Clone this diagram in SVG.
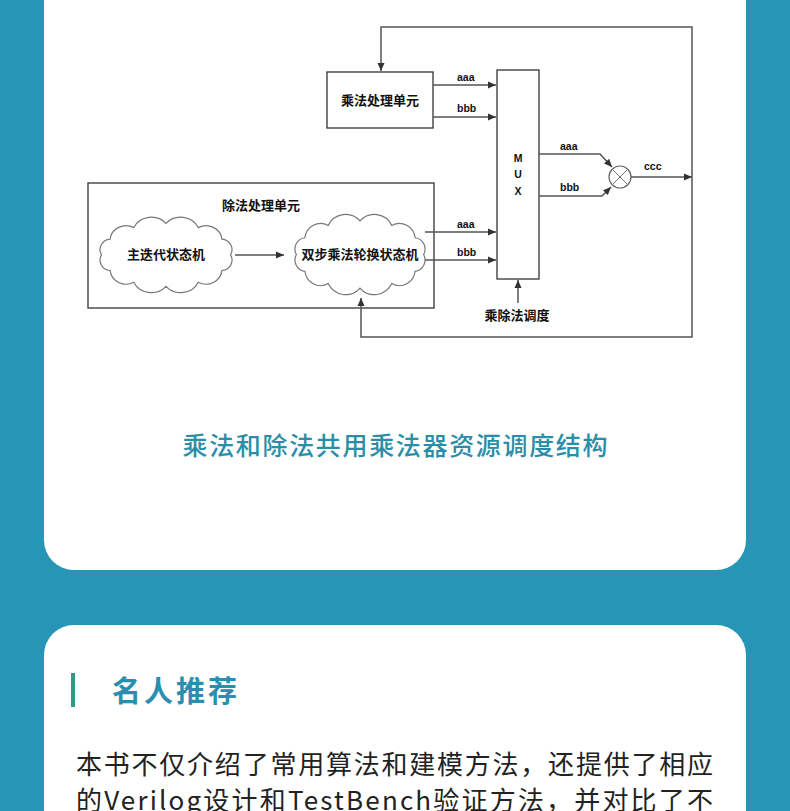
<svg xmlns="http://www.w3.org/2000/svg" width="790" height="811" viewBox="0 0 790 811">
  <style>
    .box { fill: #ffffff; stroke: #333333; stroke-width: 1.3; }
    .cloud { fill: #ffffff; stroke: #777777; stroke-width: 1.2; }
    .ln { fill: none; stroke: #555555; stroke-width: 1.5; }
    .cn { font-family: "Noto Sans CJK SC", "Noto Sans", sans-serif; font-weight: 700; font-size: 13px; fill: #111111; }
    .lb { font-family: "Liberation Sans", Arial, sans-serif; font-weight: 700; font-size: 10.5px; fill: #111111; }
    .cap { font-family: "Noto Sans CJK SC", "Noto Sans", sans-serif; font-weight: 500; font-size: 25px; fill: #2a8ea8; }
    .head { font-family: "Noto Sans CJK SC", "Noto Sans", sans-serif; font-weight: 700; font-size: 29px; fill: #2a8eb0; }
    .body { font-family: "Noto Sans CJK SC", "Noto Sans", sans-serif; font-size: 26px; fill: #222222; }
  </style>
  <defs>
    <marker id="arr" markerWidth="9" markerHeight="8" refX="8" refY="4" orient="auto" markerUnits="userSpaceOnUse">
      <path d="M0,0.5 L8,4 L0,7.5 Z" fill="#333333"/>
    </marker>
    <path id="cloudShape" vector-effect="non-scaling-stroke" d="M12,40 A10.1,10.1 0 0 1 19.8,25 A14.3,14.3 0 0 1 41,14 A17.6,17.6 0 0 1 70,10 A17.6,17.6 0 0 1 99,14 A14.3,14.3 0 0 1 120.2,25 A10.1,10.1 0 0 1 128,40 A10.1,10.1 0 0 1 120.2,55 A14.3,14.3 0 0 1 99,66 A17.6,17.6 0 0 1 70,70 A17.6,17.6 0 0 1 41,66 A14.3,14.3 0 0 1 19.8,55 A10.1,10.1 0 0 1 12,40 Z"/>
  </defs>

  <rect x="0" y="0" width="790" height="811" fill="#2795b5"/>
  <rect x="44" y="-40" width="702" height="610" rx="30" ry="30" fill="#ffffff"/>
  <rect x="44" y="625" width="702" height="250" rx="30" ry="30" fill="#ffffff"/>

  <g id="div-unit">
    <rect class="box" x="88" y="183" width="346" height="125"/>
    <text class="cn" x="261" y="210" text-anchor="middle">除法处理单元</text>
  </g>

  <g id="mul-unit">
    <rect class="box" x="327" y="72" width="106" height="56"/>
    <text class="cn" x="380" y="105" text-anchor="middle">乘法处理单元</text>
  </g>

  <g id="mux">
    <rect class="box" x="497" y="70" width="42" height="209"/>
    <text class="lb" x="518" y="162" text-anchor="middle">M</text>
    <text class="lb" x="518" y="178" text-anchor="middle">U</text>
    <text class="lb" x="518" y="195" text-anchor="middle">X</text>
  </g>

  <g id="main-fsm">
    <use href="#cloudShape" class="cloud" transform="translate(88.1,212.9) scale(1.113,1.05)"/>
    <text class="cn" x="166" y="259" text-anchor="middle">主迭代状态机</text>
  </g>

  <g id="dual-fsm">
    <use href="#cloudShape" class="cloud" transform="translate(283.2,209.8) scale(1.097,1.118)"/>
    <text class="cn" x="360" y="259" text-anchor="middle">双步乘法轮换状态机</text>
  </g>

  <g id="multiplier">
    <circle cx="620" cy="177" r="11" fill="#ffffff" stroke="#666666" stroke-width="1.2"/>
    <path d="M613,170 L627,184 M627,170 L613,184" stroke="#777777" stroke-width="1" fill="none"/>
  </g>

  <g id="sched">
    <text class="cn" x="517" y="320" text-anchor="middle">乘除法调度</text>
  </g>

  <g id="connectors">
    <path class="ln" d="M433,85 H496" marker-end="url(#arr)"/>
    <path class="ln" d="M433,117 H496" marker-end="url(#arr)"/>
    <path class="ln" d="M425,232 H496" marker-end="url(#arr)"/>
    <path class="ln" d="M425,260 H496" marker-end="url(#arr)"/>
    <path class="ln" d="M235,255 H284" marker-end="url(#arr)"/>
    <path class="ln" d="M539,154 H600 L612,167" marker-end="url(#arr)"/>
    <path class="ln" d="M539,196 H602 L611,187" marker-end="url(#arr)"/>
    <path class="ln" d="M631,177 H692" marker-end="url(#arr)"/>
    <path class="ln" d="M692,177 V27 H381 V71" marker-end="url(#arr)"/>
    <path class="ln" d="M692,177 V337 H361 V298" marker-end="url(#arr)"/>
    <path class="ln" d="M518,303 V280" marker-end="url(#arr)"/>
    <text class="lb" x="457" y="81">aaa</text>
    <text class="lb" x="457" y="112">bbb</text>
    <text class="lb" x="457" y="228">aaa</text>
    <text class="lb" x="457" y="256">bbb</text>
    <text class="lb" x="560" y="150">aaa</text>
    <text class="lb" x="560" y="191">bbb</text>
    <text class="lb" x="644" y="170">ccc</text>
  </g>

  <text class="cap" x="395" y="455" text-anchor="middle" textLength="425" lengthAdjust="spacing">乘法和除法共用乘法器资源调度结构</text>

  <rect x="71" y="673" width="4" height="34" fill="#2d9c86"/>
  <text class="head" x="112" y="702" textLength="125" lengthAdjust="spacing">名人推荐</text>

  <text class="body" x="76" y="774" textLength="637" lengthAdjust="spacing">本书不仅介绍了常用算法和建模方法，还提供了相应</text>
  <text class="body" x="76" y="810" textLength="637" lengthAdjust="spacing">的Verilog设计和TestBench验证方法，并对比了不</text>
</svg>
